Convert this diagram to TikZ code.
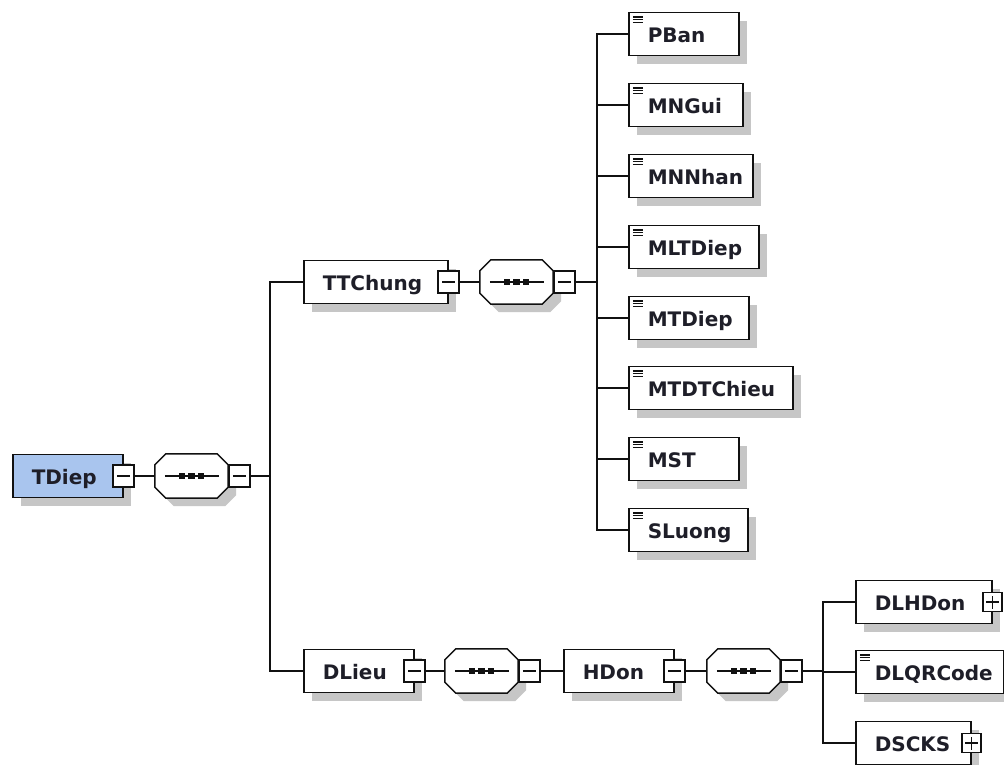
\documentclass[tikz,border=0pt]{standalone}
\usepackage{fontspec}
\setmainfont{DejaVu Sans}
\usetikzlibrary{shadows}
\definecolor{ink}{HTML}{1E1E28}
\definecolor{wirecol}{HTML}{111111}
\definecolor{rootfill}{HTML}{A9C5EE}
\definecolor{shade}{HTML}{C6C6C6}

% octagon of a sequence compositor, drawn round an empty node
\newcommand{\seqframe}[1]{%
  \draw[wire, fill=white, drop shadow={shadow xshift=8pt, shadow yshift=-8pt, fill=shade, opacity=1}]
    ([xshift=11pt]#1.north west) -- ([xshift=-11pt]#1.north east)
    -- ([yshift=-11pt]#1.north east) -- ([yshift=11pt]#1.south east)
    -- ([xshift=-11pt]#1.south east) -- ([xshift=11pt]#1.south west)
    -- ([yshift=11pt]#1.south west) -- ([yshift=-11pt]#1.north west) -- cycle;
  \draw[wire] ([xshift=10pt]#1.west) -- ([xshift=-9pt]#1.east);
  \foreach \dx in {-9.5,0,9.5}
    \fill[wirecol] ([xshift=\dx pt]#1.center) +(-3.2,-3) rectangle +(3.2,3);
}

\begin{document}
\begin{tikzpicture}[
  x=1pt, y=-1pt,
  text=ink,
  font=\fontsize{20}{24}\selectfont\bfseries,
  wire/.style={draw=wirecol, line width=1.5pt},
  elem/.style={draw=wirecol, line width=1.5pt, fill=white, anchor=west,
    text width=#1, inner xsep=0pt, align=left, minimum height=43pt,
    text height=21pt, text depth=4pt,
    execute at begin node=\hspace*{19pt},
    drop shadow={shadow xshift=8pt, shadow yshift=-8pt, fill=shade, opacity=1}},
  leaf/.style={elem=#1, path picture={
    \foreach \k in {4.5,7.2,9.9}
      \draw[line width=1.4pt] ([xshift=4pt, yshift=-\k pt]path picture bounding box.north west) -- ++(10,0);}},
  seq/.style={minimum width=73pt, minimum height=44pt, inner sep=0pt},
  toggle/.style={draw=wirecol, line width=1.3pt, fill=white,
    minimum width=21pt, minimum height=22pt, inner sep=0pt,
    path picture={\draw[line width=1.3pt] ([xshift=4pt]path picture bounding box.west)
      -- ([xshift=-4pt]path picture bounding box.east);}},
  expand/.style={draw=wirecol, line width=1.3pt, fill=white,
    minimum width=19pt, minimum height=19pt, inner sep=0pt,
    path picture={\draw[line width=1.3pt] ([xshift=3pt]path picture bounding box.west)
      -- ([xshift=-3pt]path picture bounding box.east);
      \draw[line width=1.3pt] ([yshift=3pt]path picture bounding box.south)
      -- ([yshift=-3pt]path picture bounding box.north);}}
]
  \useasboundingbox (0,0) rectangle (1004,764);
  \fill[white] (0,0) rectangle (1004,764);

  % root
  \node[elem=110pt, fill=rootfill] (tdiep) at (12,476) {TDiep};
  \node[seq] (seq-tdiep) at (191.5,476) {};
  \seqframe{seq-tdiep}
  \coordinate (fork-tdiep) at (270,476);

  % TTChung branch
  \node[elem=144pt] (ttchung) at (303,282) {TTChung};
  \node[seq] (seq-ttchung) at (516.5,282) {};
  \seqframe{seq-ttchung}
  \coordinate (fork-ttchung) at (597,282);

  \node[leaf=110pt] (pban) at (628,34) {PBan};
  \node[leaf=114pt] (mngui) at (628,105) {MNGui};
  \node[leaf=124pt] (mnnhan) at (628,176) {MNNhan};
  \node[leaf=130pt] (mltdiep) at (628,247) {MLTDiep};
  \node[leaf=120pt] (mtdiep) at (628,318) {MTDiep};
  \node[leaf=164pt] (mtdtchieu) at (628,388) {MTDTChieu};
  \node[leaf=110pt] (mst) at (628,459) {MST};
  \node[leaf=119pt] (sluong) at (628,530) {SLuong};

  % DLieu branch
  \node[elem=110pt] (dlieu) at (303,671) {DLieu};
  \node[seq] (seq-dlieu) at (481.5,671) {};
  \seqframe{seq-dlieu}
  \node[elem=110pt] (hdon) at (563,671) {HDon};
  \node[seq] (seq-hdon) at (743.5,671) {};
  \seqframe{seq-hdon}
  \coordinate (fork-hdon) at (823,671);

  \node[elem=136pt] (dlhdon) at (855,602) {DLHDon};
  \node[leaf=148pt] (dlqrcode) at (855,672) {DLQRCode};
  \node[elem=115pt] (dscks) at (855,743) {DSCKS};

  % toggles
  \node[toggle] (tdiep-t) at (tdiep.east) {};
  \node[toggle, anchor=west] (seq-tdiep-t) at (seq-tdiep.east) {};
  \node[toggle] (ttchung-t) at (ttchung.east) {};
  \node[toggle, anchor=west] (seq-ttchung-t) at (seq-ttchung.east) {};
  \node[toggle] (dlieu-t) at (dlieu.east) {};
  \node[toggle, anchor=west] (seq-dlieu-t) at (seq-dlieu.east) {};
  \node[toggle] (hdon-t) at (hdon.east) {};
  \node[toggle, anchor=west] (seq-hdon-t) at (seq-hdon.east) {};
  \node[expand] (dlhdon-t) at (dlhdon.east) {};
  \node[expand] (dscks-t) at (dscks.east) {};

  % connectors
  \draw[wire] (tdiep-t.east) -- (seq-tdiep.west);
  \draw[wire] (seq-tdiep-t.east) -- (fork-tdiep);
  \draw[wire] (ttchung.west) -| (fork-tdiep);
  \draw[wire] (dlieu.west) -| (fork-tdiep);

  \draw[wire] (ttchung-t.east) -- (seq-ttchung.west);
  \draw[wire] (seq-ttchung-t.east) -- (fork-ttchung);
  \draw[wire] (pban.west) -| (fork-ttchung);
  \draw[wire] (mngui.west) -| (fork-ttchung);
  \draw[wire] (mnnhan.west) -| (fork-ttchung);
  \draw[wire] (mltdiep.west) -| (fork-ttchung);
  \draw[wire] (mtdiep.west) -| (fork-ttchung);
  \draw[wire] (mtdtchieu.west) -| (fork-ttchung);
  \draw[wire] (mst.west) -| (fork-ttchung);
  \draw[wire] (sluong.west) -| (fork-ttchung);

  \draw[wire] (dlieu-t.east) -- (seq-dlieu.west);
  \draw[wire] (seq-dlieu-t.east) -- (hdon.west);
  \draw[wire] (hdon-t.east) -- (seq-hdon.west);
  \draw[wire] (seq-hdon-t.east) -- (fork-hdon);
  \draw[wire] (dlhdon.west) -| (fork-hdon);
  \draw[wire] (dlqrcode.west) -| (fork-hdon);
  \draw[wire] (dscks.west) -| (fork-hdon);
\end{tikzpicture}
\end{document}
